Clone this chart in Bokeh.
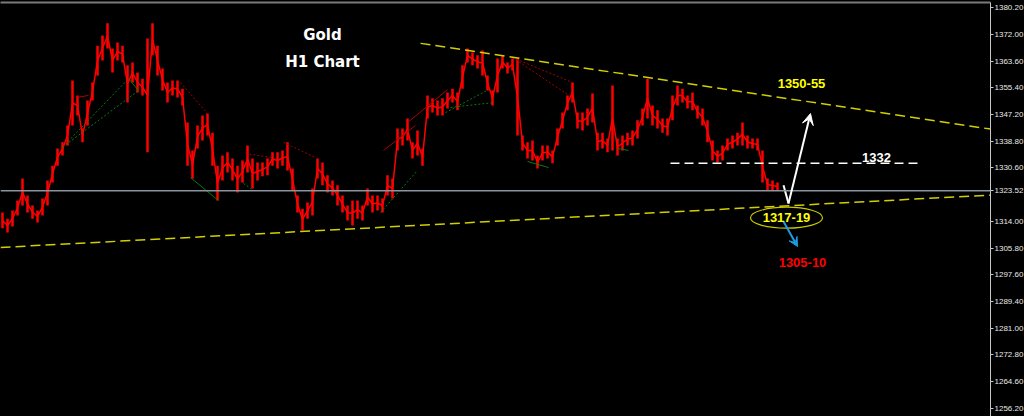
import numpy as np
from bokeh.plotting import figure
from bokeh.models import (ColumnDataSource, FixedTicker, PrintfTickFormatter, LinearAxis,
                          Label, Arrow, VeeHead, Span)
from bokeh.embed import file_html
from bokeh.resources import INLINE

# ---------------- data ----------------
high = [1316.8, 1314.9, 1317.4, 1320.5, 1327.3, 1322.1, 1319.0, 1317.4, 1321.1, 1326.7,
        1331.3, 1336.6, 1338.5, 1343.7, 1357.6, 1353.0, 1342.8, 1351.4, 1357.0, 1368.4,
        1371.5, 1375.3, 1367.5, 1369.4, 1368.4, 1362.3, 1363.2, 1360.1, 1358.2, 1370.6,
        1375.3, 1368.4, 1361.3, 1357.0, 1357.6, 1357.6, 1355.1, 1344.6, 1336.0, 1343.7,
        1346.8, 1347.4, 1341.5, 1331.3, 1334.4, 1335.4, 1333.5, 1331.3, 1332.9, 1337.5,
        1333.5, 1332.3, 1332.3, 1333.5, 1335.4, 1335.4, 1336.0, 1338.5, 1330.4, 1322.1,
        1318.0, 1319.9, 1324.2, 1333.5, 1332.3, 1328.3, 1326.7, 1325.2, 1322.1, 1319.0,
        1320.5, 1320.5, 1319.0, 1324.2, 1322.1, 1322.1, 1321.1, 1328.3, 1327.3, 1342.8,
        1342.8, 1345.9, 1338.5, 1342.2, 1336.6, 1353.0, 1352.1, 1351.4, 1352.1, 1353.9,
        1355.1, 1353.9, 1362.3, 1367.5, 1366.3, 1365.4, 1366.9, 1359.2, 1354.5, 1364.4,
        1365.4, 1363.2, 1364.4, 1364.4, 1340.6, 1338.5, 1339.1, 1334.4, 1337.5, 1337.5,
        1336.0, 1342.8, 1347.7, 1353.0, 1357.0, 1347.7, 1347.7, 1349.0, 1353.6, 1341.5,
        1341.5, 1339.7, 1356.1, 1339.7, 1340.6, 1341.5, 1342.2, 1345.3, 1349.0, 1358.2,
        1349.9, 1348.4, 1345.9, 1345.9, 1353.0, 1356.1, 1355.1, 1353.0, 1353.9, 1349.9,
        1349.0, 1345.3, 1339.1, 1336.0, 1337.5, 1339.7, 1340.6, 1341.5, 1344.6, 1340.6,
        1339.7, 1339.7, 1336.0, 1327.3, 1326.7, 1326.1]
low = [1311.9, 1310.6, 1312.5, 1315.9, 1319.0, 1316.8, 1314.9, 1313.7, 1315.9, 1319.0,
       1326.1, 1331.3, 1334.4, 1337.5, 1343.7, 1346.8, 1338.5, 1343.7, 1351.4, 1359.2,
       1363.8, 1367.5, 1360.1, 1363.8, 1363.2, 1350.8, 1357.0, 1353.9, 1353.0, 1335.4,
       1365.4, 1359.2, 1354.5, 1350.8, 1353.0, 1352.4, 1349.9, 1331.3, 1327.3, 1336.6,
       1339.1, 1340.6, 1331.3, 1320.5, 1326.7, 1329.2, 1326.7, 1323.0, 1326.1, 1329.2,
       1324.2, 1326.7, 1328.0, 1328.3, 1331.3, 1330.4, 1331.3, 1329.8, 1323.6, 1316.8,
       1311.3, 1314.9, 1315.9, 1327.3, 1325.2, 1323.0, 1322.1, 1319.0, 1316.8, 1314.3,
       1312.8, 1314.9, 1314.3, 1319.0, 1316.8, 1317.4, 1316.8, 1322.1, 1321.1, 1336.0,
       1337.5, 1339.1, 1333.5, 1334.4, 1331.3, 1345.9, 1347.7, 1346.8, 1346.8, 1349.0,
       1350.8, 1348.4, 1355.1, 1363.2, 1362.3, 1361.3, 1359.2, 1354.5, 1349.9, 1353.9,
       1361.3, 1359.8, 1360.7, 1340.6, 1336.0, 1333.5, 1332.9, 1330.4, 1332.9, 1333.5,
       1332.0, 1337.5, 1342.8, 1348.4, 1350.8, 1342.8, 1342.2, 1343.7, 1344.6, 1336.0,
       1336.6, 1335.4, 1336.0, 1334.4, 1336.0, 1337.5, 1337.5, 1339.7, 1343.7, 1345.9,
       1343.7, 1342.8, 1341.5, 1340.6, 1345.3, 1349.9, 1350.8, 1349.0, 1348.4, 1345.9,
       1343.7, 1338.5, 1332.9, 1332.3, 1332.9, 1336.0, 1336.6, 1337.5, 1337.5, 1336.6,
       1336.6, 1336.0, 1326.1, 1323.6, 1323.6, 1323.6]
bars = list(range(len(high)))

last_price = 1323.52
price_ticks = [1256.20, 1264.60, 1272.80, 1281.00, 1289.40, 1297.60, 1305.80, 1314.00,
               last_price, 1330.60, 1338.80, 1347.20, 1355.40, 1363.60, 1372.00, 1380.20]

# trend lines (bar index, price)
support_x = [-0.4, 197.6]
support_y = [1306.0, 1322.2]
resist_x = [83.6, 197.6]
resist_y = [1369.1, 1342.6]
level_1332_x = [133.6, 183.2]
level_1332_y = [1332.0, 1332.0]

# zig-zag indicator segments
green_dot = dict(x0=[12.0, 12.0, 75.6, 88.6, 89.6, 48.2], y0=[1337.0, 1337.0, 1316.8, 1347.7, 1349.3, 1325.8],
                 x1=[25.2, 27.2, 83.0, 97.2, 98.2, 50.2], y1=[1358.2, 1354.5, 1329.8, 1354.8, 1350.8, 1323.6])
green_solid = dict(x0=[37.6, 105.0, 123.0, 25.2], y0=[1327.6, 1332.6, 1336.6, 1358.2],
                   x1=[43.2, 109.2, 125.2, 27.2], y1=[1320.5, 1330.7, 1336.0, 1354.5])
red_dot = dict(x0=[35.6, 48.6, 56.2, 102.0, 102.0], y0=[1357.0, 1335.0, 1338.5, 1364.7, 1364.7],
               x1=[41.0, 54.0, 62.6, 114.0, 113.0], y1=[1347.4, 1333.8, 1333.8, 1357.0, 1353.3])
red_solid = dict(x0=[15.0, 76.2, 81.0], y0=[1352.4, 1336.0, 1344.6],
                 x1=[17.2, 82.6, 89.0], y1=[1353.0, 1343.7, 1354.8])

FONT = "Liberation Sans"

p = figure(frame_width=990, frame_height=414, x_range=(-0.4, 197.6), y_range=(1253.73, 1381.74),
           output_backend="svg", toolbar_location=None, x_axis_location=None, y_axis_location="right",
           background_fill_color="#000000", border_fill_color="#000000", min_border=0)
p.min_border_top = 2
p.grid.visible = False
p.outline_line_color = None

ya = p.yaxis[0]
ya.ticker = FixedTicker(ticks=price_ticks)
ya.formatter = PrintfTickFormatter(format="%.2f")
ya.major_label_text_font = FONT
ya.major_label_text_font_size = "8px"
ya.major_label_text_color = "#e8e8e8"
ya.axis_line_color = "#c8c8c8"
ya.major_tick_line_color = "#c8c8c8"
ya.major_tick_in = 0
ya.major_tick_out = 3
ya.minor_tick_line_color = None
ya.major_label_standoff = 1

top = LinearAxis(ticker=FixedTicker(ticks=[]), axis_line_color="#7a7a7a", axis_line_width=2,
                 major_tick_line_color=None, minor_tick_line_color=None,
                 major_label_standoff=0, major_tick_out=0, major_tick_in=0)
p.add_layout(top, "above")

# price bars
src = ColumnDataSource(dict(i=bars, high=high, low=low,
                            mid=[(h + l) / 2 for h, l in zip(high, low)]))
p.segment(x0="i", y0="low", x1="i", y1="high", source=src, line_color="#ff0000", line_width=2.5)
p.line(x="i", y="mid", source=src, line_color="#ff0000", line_width=1.5)

# indicator lines
p.segment(**green_dot, line_color="#0c7a0c", line_width=1, line_dash="2 2")
p.segment(**green_solid, line_color="#0c7a0c", line_width=1)
p.segment(**red_dot, line_color="#a00000", line_width=1, line_dash="2 2")
p.segment(**red_solid, line_color="#b00000", line_width=1)

# current price line
p.add_layout(Span(location=last_price, dimension="width", line_color="#8c949f", line_width=1.5))

# trend lines
p.line(support_x, support_y, line_color="#d0d000", line_width=1.5, line_dash="10 5")
p.line(resist_x, resist_y, line_color="#d0d000", line_width=1.5, line_dash="10 5")
p.line(level_1332_x, level_1332_y, line_color="#ffffff", line_width=1.5, line_dash="9 5")

# arrows
p.line([156.2, 157.2], [1325.2, 1319.6], line_color="#ffffff", line_width=2)
p.add_layout(Arrow(x_start=157.2, y_start=1319.6, x_end=161.6, y_end=1347.4,
                   line_color="#ffffff", line_width=2,
                   end=VeeHead(size=11, fill_color="#ffffff", line_color="#ffffff")))
p.add_layout(Arrow(x_start=156.2, y_start=1314.0, x_end=159.0, y_end=1306.3,
                   line_color="#1e9be6", line_width=2,
                   end=VeeHead(size=9, fill_color="#1e9be6", line_color="#1e9be6")))

# ellipse
p.ellipse(x=[156.8], y=[1315.2], width=[72], height=[21], width_units="screen", height_units="screen",
          fill_color=None, line_color="#c8c800", line_width=1.2)

def lab(x, y, text, color, size, font=FONT, align="center"):
    p.add_layout(Label(x=x, y=y, text=text, text_color=color, text_font=font, text_font_size=size,
                       text_font_style="bold", text_align=align, text_baseline="middle"))

lab(64.0, 1371.6, "Gold", "#ffffff", "15px", font="DejaVu Sans")
lab(64.0, 1363.4, "H1 Chart", "#ffffff", "15px", font="DejaVu Sans")
lab(159.8, 1356.7, "1350-55", "#ffff00", "13px")
lab(174.8, 1333.8, "1332", "#ffffff", "13px")
lab(156.8, 1315.2, "1317-19", "#ffff00", "13px")
lab(160.0, 1301.4, "1305-10", "#ff0000", "13px")

html = file_html(p, INLINE)
html = html.replace("</head>", "<style>html,body{margin:0;padding:0;background:#000000;overflow:hidden;}</style></head>", 1)
open("out.html", "w").write(html)
